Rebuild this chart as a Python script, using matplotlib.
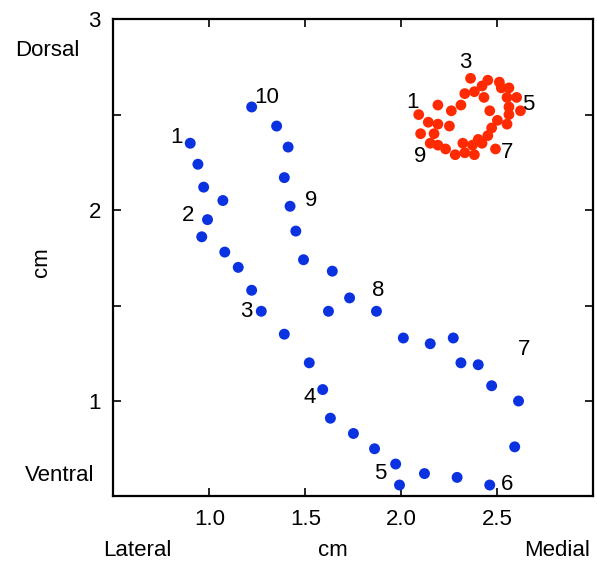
import matplotlib
matplotlib.use("Agg")
import matplotlib.pyplot as plt
from matplotlib.ticker import FixedLocator, FormatStrFormatter

plt.rcParams['font.family'] = ['Liberation Sans', 'DejaVu Sans']

# blue trajectory, in order from point 1 to point 10
blue_x = [0.90, 0.94, 0.97, 1.07, 0.99, 0.96, 1.08, 1.15, 1.22, 1.27,
          1.39, 1.52, 1.59, 1.63, 1.75, 1.86, 1.97, 1.99, 2.12, 2.29,
          2.46, 2.59, 2.61, 2.47, 2.40, 2.31, 2.27, 2.15, 2.01, 1.87,
          1.73, 1.62, 1.64, 1.49, 1.45, 1.42, 1.39, 1.41, 1.35, 1.22]
blue_y = [2.35, 2.24, 2.12, 2.05, 1.95, 1.86, 1.78, 1.70, 1.58, 1.47,
          1.35, 1.20, 1.06, 0.91, 0.83, 0.75, 0.67, 0.56, 0.62, 0.60,
          0.56, 0.76, 1.00, 1.08, 1.19, 1.20, 1.33, 1.30, 1.33, 1.47,
          1.54, 1.47, 1.68, 1.74, 1.89, 2.02, 2.17, 2.33, 2.44, 2.54]

# red trajectory
red_x = [2.09, 2.14, 2.19, 2.25, 2.10, 2.17, 2.19, 2.26, 2.31, 2.33,
         2.36, 2.38, 2.42, 2.45, 2.43, 2.51, 2.52, 2.56, 2.55, 2.60,
         2.62, 2.56, 2.46, 2.56, 2.50, 2.55, 2.47, 2.45, 2.40, 2.42,
         2.37, 2.32, 2.33, 2.38, 2.49, 2.28, 2.23, 2.19, 2.15]
red_y = [2.50, 2.46, 2.45, 2.44, 2.40, 2.40, 2.55, 2.52, 2.55, 2.61,
         2.69, 2.62, 2.65, 2.68, 2.59, 2.67, 2.64, 2.64, 2.59, 2.59,
         2.52, 2.54, 2.52, 2.50, 2.47, 2.45, 2.43, 2.39, 2.37, 2.35,
         2.34, 2.35, 2.30, 2.29, 2.32, 2.29, 2.32, 2.34, 2.35]

blue_labels = ['1', '2', '3', '4', '5', '6', '7', '8', '9', '10']
blue_label_x = [0.83, 0.89, 1.19, 1.52, 1.89, 2.55, 2.64, 1.88, 1.53, 1.30]
blue_label_y = [2.38, 1.97, 1.47, 1.02, 0.62, 0.565, 1.27, 1.58, 2.05, 2.59]

red_labels = ['1', '3', '5', '7', '9']
red_label_x = [2.06, 2.335, 2.66, 2.55, 2.10]
red_label_y = [2.565, 2.775, 2.555, 2.30, 2.28]

fig = plt.figure(figsize=(5.97, 5.71), dpi=100)
ax = fig.add_axes([0.190, 0.1305, 0.804, 0.836])

ax.scatter(blue_x, blue_y, s=62, color='#0a32e0', edgecolors='none', zorder=3)
ax.scatter(red_x, red_y, s=60, color='#ff2a00', edgecolors='none', zorder=3)

for t, x, y in zip(blue_labels, blue_label_x, blue_label_y):
    ax.text(x, y, t, fontsize=16, ha='center', va='center')
for t, x, y in zip(red_labels, red_label_x, red_label_y):
    ax.text(x, y, t, fontsize=16, ha='center', va='center')

ax.set_xlim(0.5, 3.0)
ax.set_ylim(0.5, 3.0)
ax.xaxis.set_major_locator(FixedLocator([1.0, 1.5, 2.0, 2.5]))
ax.xaxis.set_major_formatter(FormatStrFormatter('%.1f'))
ax.yaxis.set_major_locator(FixedLocator([1, 2, 3]))
ax.yaxis.set_minor_locator(FixedLocator([1.5, 2.5]))
ax.yaxis.set_major_formatter(FormatStrFormatter('%d'))

ax.tick_params(which='both', direction='in', top=True, right=True,
               length=5.5, width=1.2, labelsize=16)
ax.tick_params(axis='x', pad=9)
ax.tick_params(axis='y', pad=9)
for s in ax.spines.values():
    s.set_linewidth(1.6)

# axis annotations
ax.text(0.049, -0.114, 'Lateral', transform=ax.transAxes, fontsize=16, ha='center', va='center')
ax.text(0.457, -0.114, 'cm', transform=ax.transAxes, fontsize=16, ha='center', va='center')
ax.text(0.924, -0.114, 'Medial', transform=ax.transAxes, fontsize=16, ha='center', va='center')
ax.text(-0.138, 0.935, 'Dorsal', transform=ax.transAxes, fontsize=16, ha='center', va='center')
ax.text(-0.111, 0.043, 'Ventral', transform=ax.transAxes, fontsize=16, ha='center', va='center')
ax.text(-0.149, 0.491, 'cm', transform=ax.transAxes, fontsize=16, ha='center', va='center', rotation=90)

fig.savefig('out.png', dpi=100)
